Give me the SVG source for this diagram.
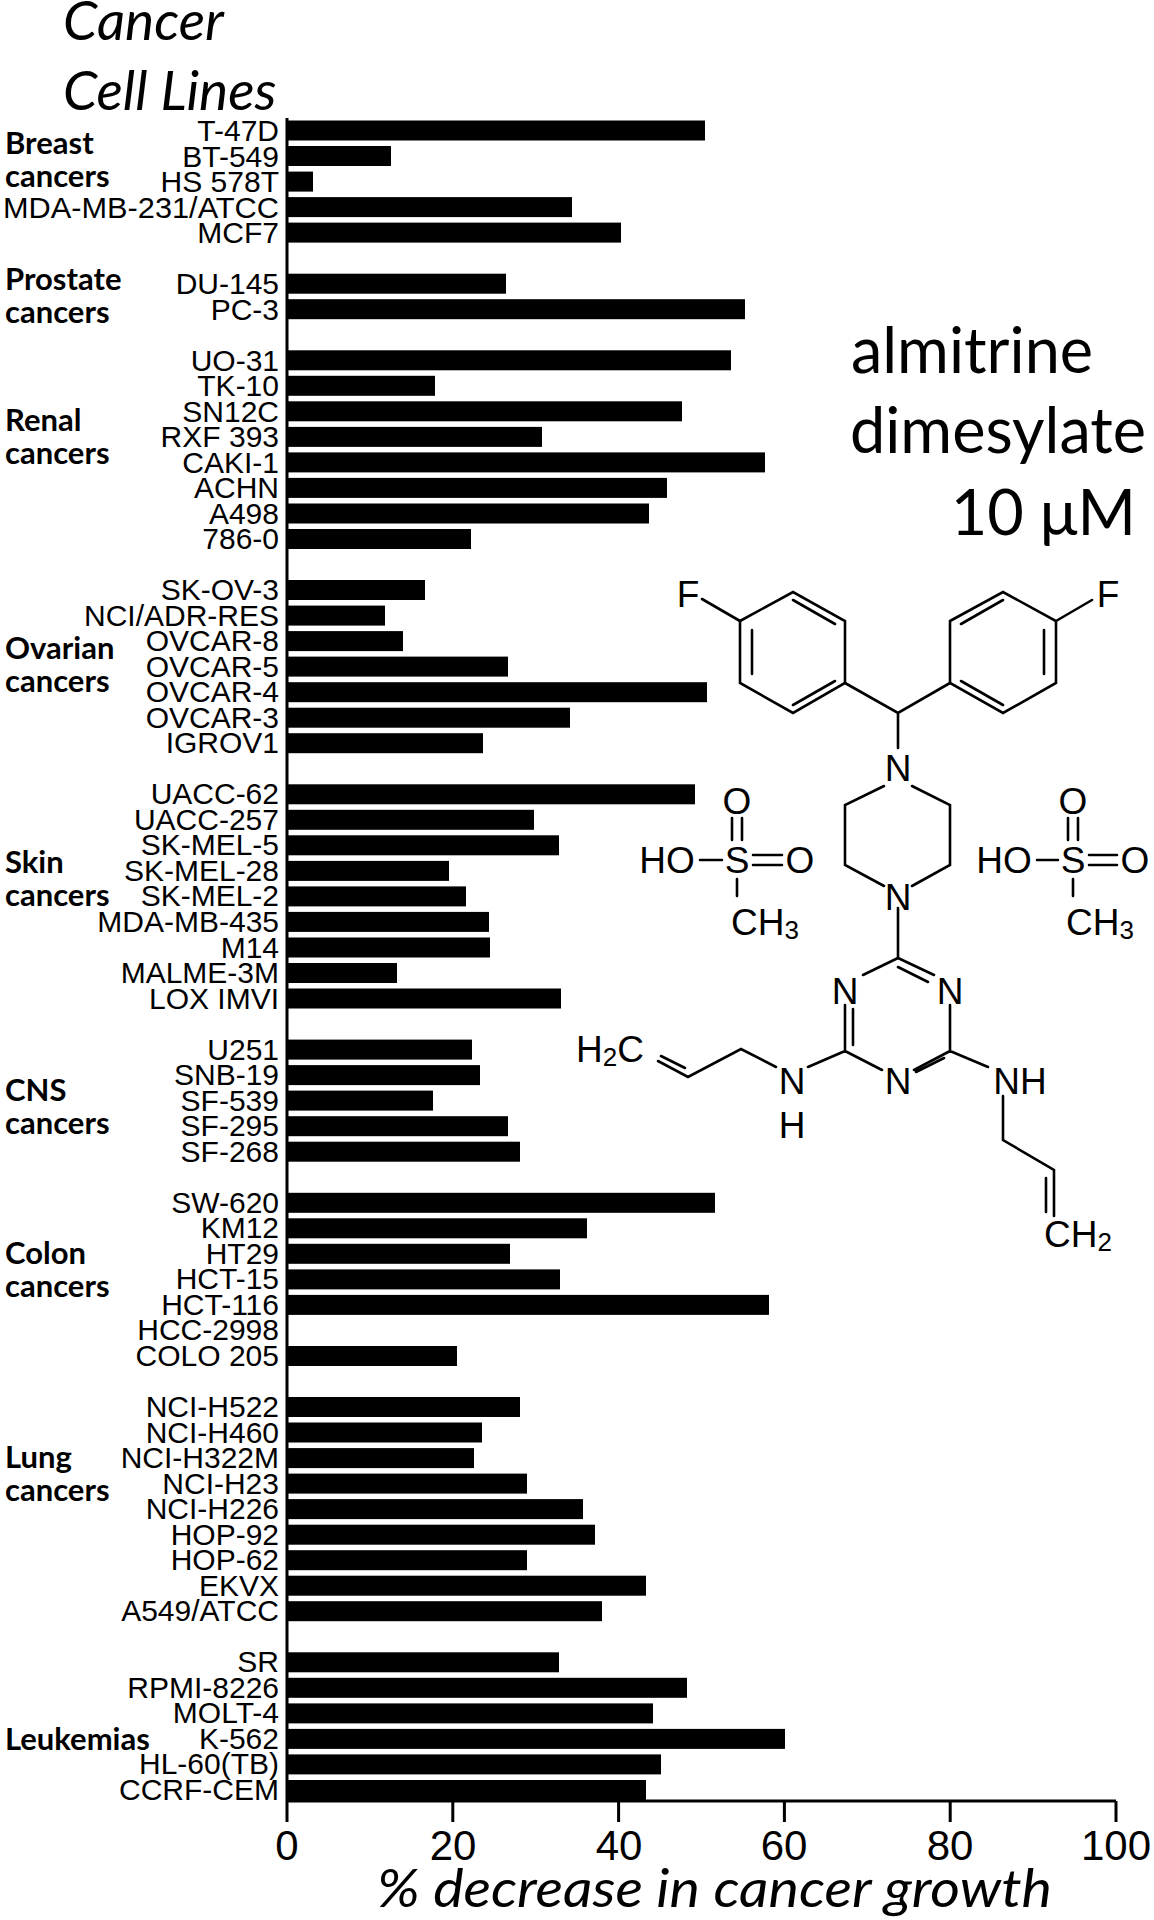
<svg xmlns="http://www.w3.org/2000/svg" width="1154" height="1920" viewBox="0 0 1154 1920">
<style>
.lb{font-family:"Liberation Sans Narrow","Liberation Sans",Arial,sans-serif;font-size:30px;text-anchor:end;fill:#000}
.gr{font-family:Lato,"Open Sans",sans-serif;font-weight:bold;font-size:31px;fill:#000}
.tt{font-family:Lato,"Open Sans",sans-serif;font-style:italic;font-size:55px;fill:#000}
.tk{font-family:"Liberation Sans Narrow","Liberation Sans",sans-serif;font-size:42px;text-anchor:middle;fill:#000}
.big{font-family:Lato,"Open Sans",sans-serif;font-size:63px;fill:#000}
.at{font-family:"Liberation Sans",Arial,sans-serif;font-size:37px;text-anchor:middle;dominant-baseline:central;fill:#000}
.bd{stroke:#000;stroke-width:2.6;fill:none;stroke-linecap:round}
rect{fill:#000}
</style>
<rect width="1154" height="1920" style="fill:#fff"/>
<text class="tt" x="63" y="40">Cancer</text>
<text class="tt" x="63" y="110">Cell Lines</text>
<g id="groups">
<text class="gr" x="5" y="154">Breast</text><text class="gr" x="5" y="187">cancers</text>
<text class="gr" x="5" y="290">Prostate</text><text class="gr" x="5" y="323">cancers</text>
<text class="gr" x="5" y="431">Renal</text><text class="gr" x="5" y="464">cancers</text>
<text class="gr" x="5" y="659">Ovarian</text><text class="gr" x="5" y="692">cancers</text>
<text class="gr" x="5" y="873">Skin</text><text class="gr" x="5" y="906">cancers</text>
<text class="gr" x="5" y="1101">CNS</text><text class="gr" x="5" y="1134">cancers</text>
<text class="gr" x="5" y="1264">Colon</text><text class="gr" x="5" y="1297">cancers</text>
<text class="gr" x="5" y="1468">Lung</text><text class="gr" x="5" y="1501">cancers</text>
<text class="gr" x="5" y="1750">Leukemias</text>
</g>
<g id="bars">
<rect x="287" y="120.5" width="418" height="20"/><text class="lb" x="279" y="141">T-47D</text>
<rect x="287" y="146" width="104" height="20"/><text class="lb" x="279" y="166.5">BT-549</text>
<rect x="287" y="171.6" width="26" height="20"/><text class="lb" x="279" y="192">HS 578T</text>
<rect x="287" y="197.1" width="285" height="20"/><text class="lb" x="279" y="217.5" textLength="276" lengthAdjust="spacingAndGlyphs">MDA-MB-231/ATCC</text>
<rect x="287" y="222.6" width="334" height="20"/><text class="lb" x="279" y="243">MCF7</text>
<rect x="287" y="273.7" width="219" height="20"/><text class="lb" x="279" y="294">DU-145</text>
<rect x="287" y="299.2" width="458" height="20"/><text class="lb" x="279" y="319.5">PC-3</text>
<rect x="287" y="350.3" width="444" height="20"/><text class="lb" x="279" y="370.5">UO-31</text>
<rect x="287" y="375.8" width="148" height="20"/><text class="lb" x="279" y="396">TK-10</text>
<rect x="287" y="401.3" width="395" height="20"/><text class="lb" x="279" y="421.5">SN12C</text>
<rect x="287" y="426.9" width="255" height="20"/><text class="lb" x="279" y="447">RXF 393</text>
<rect x="287" y="452.4" width="478" height="20"/><text class="lb" x="279" y="472.5">CAKI-1</text>
<rect x="287" y="477.9" width="380" height="20"/><text class="lb" x="279" y="498">ACHN</text>
<rect x="287" y="503.5" width="362" height="20"/><text class="lb" x="279" y="523.5">A498</text>
<rect x="287" y="529" width="184" height="20"/><text class="lb" x="279" y="549">786-0</text>
<rect x="287" y="580" width="138" height="20"/><text class="lb" x="279" y="600">SK-OV-3</text>
<rect x="287" y="605.6" width="98" height="20"/><text class="lb" x="279" y="625.6">NCI/ADR-RES</text>
<rect x="287" y="631.1" width="116" height="20"/><text class="lb" x="279" y="651.1">OVCAR-8</text>
<rect x="287" y="656.6" width="221" height="20"/><text class="lb" x="279" y="676.6">OVCAR-5</text>
<rect x="287" y="682.2" width="420" height="20"/><text class="lb" x="279" y="702.2">OVCAR-4</text>
<rect x="287" y="707.7" width="283" height="20"/><text class="lb" x="279" y="727.7">OVCAR-3</text>
<rect x="287" y="733.2" width="196" height="20"/><text class="lb" x="279" y="753.2">IGROV1</text>
<rect x="287" y="784.3" width="408" height="20"/><text class="lb" x="279" y="804.3">UACC-62</text>
<rect x="287" y="809.8" width="247" height="20"/><text class="lb" x="279" y="829.8">UACC-257</text>
<rect x="287" y="835.3" width="272" height="20"/><text class="lb" x="279" y="855.3">SK-MEL-5</text>
<rect x="287" y="860.9" width="162" height="20"/><text class="lb" x="279" y="880.9">SK-MEL-28</text>
<rect x="287" y="886.4" width="179" height="20"/><text class="lb" x="279" y="906.4">SK-MEL-2</text>
<rect x="287" y="911.9" width="202" height="20"/><text class="lb" x="279" y="931.9">MDA-MB-435</text>
<rect x="287" y="937.5" width="203" height="20"/><text class="lb" x="279" y="957.5">M14</text>
<rect x="287" y="963" width="110" height="20"/><text class="lb" x="279" y="983">MALME-3M</text>
<rect x="287" y="988.5" width="274" height="20"/><text class="lb" x="279" y="1008.5">LOX IMVI</text>
<rect x="287" y="1039.6" width="185" height="20"/><text class="lb" x="279" y="1059.6">U251</text>
<rect x="287" y="1065.1" width="193" height="20"/><text class="lb" x="279" y="1085.1">SNB-19</text>
<rect x="287" y="1090.6" width="146" height="20"/><text class="lb" x="279" y="1110.6">SF-539</text>
<rect x="287" y="1116.2" width="221" height="20"/><text class="lb" x="279" y="1136.2">SF-295</text>
<rect x="287" y="1141.7" width="233" height="20"/><text class="lb" x="279" y="1161.7">SF-268</text>
<rect x="287" y="1192.8" width="428" height="20"/><text class="lb" x="279" y="1212.8">SW-620</text>
<rect x="287" y="1218.3" width="300" height="20"/><text class="lb" x="279" y="1238.3">KM12</text>
<rect x="287" y="1243.8" width="223" height="20"/><text class="lb" x="279" y="1263.8">HT29</text>
<rect x="287" y="1269.4" width="273" height="20"/><text class="lb" x="279" y="1289.4">HCT-15</text>
<rect x="287" y="1294.9" width="482" height="20"/><text class="lb" x="279" y="1314.9">HCT-116</text>
<text class="lb" x="279" y="1340.4">HCC-2998</text>
<rect x="287" y="1346" width="170" height="20"/><text class="lb" x="279" y="1366">COLO 205</text>
<rect x="287" y="1397" width="233" height="20"/><text class="lb" x="279" y="1417">NCI-H522</text>
<rect x="287" y="1422.5" width="195" height="20"/><text class="lb" x="279" y="1442.5">NCI-H460</text>
<rect x="287" y="1448.1" width="187" height="20"/><text class="lb" x="279" y="1468.1">NCI-H322M</text>
<rect x="287" y="1473.6" width="240" height="20"/><text class="lb" x="279" y="1493.6">NCI-H23</text>
<rect x="287" y="1499.1" width="296" height="20"/><text class="lb" x="279" y="1519.1">NCI-H226</text>
<rect x="287" y="1524.7" width="308" height="20"/><text class="lb" x="279" y="1544.7">HOP-92</text>
<rect x="287" y="1550.2" width="240" height="20"/><text class="lb" x="279" y="1570.2">HOP-62</text>
<rect x="287" y="1575.7" width="359" height="20"/><text class="lb" x="279" y="1595.7">EKVX</text>
<rect x="287" y="1601.2" width="315" height="20"/><text class="lb" x="279" y="1621.2">A549/ATCC</text>
<rect x="287" y="1652.3" width="272" height="20"/><text class="lb" x="279" y="1672.3">SR</text>
<rect x="287" y="1677.8" width="400" height="20"/><text class="lb" x="279" y="1697.8">RPMI-8226</text>
<rect x="287" y="1703.4" width="366" height="20"/><text class="lb" x="279" y="1723.4">MOLT-4</text>
<rect x="287" y="1728.9" width="498" height="20"/><text class="lb" x="279" y="1748.9">K-562</text>
<rect x="287" y="1754.4" width="374" height="20"/><text class="lb" x="279" y="1774.4">HL-60(TB)</text>
<rect x="287" y="1780" width="359" height="20"/><text class="lb" x="279" y="1800">CCRF-CEM</text>
</g>
<g id="axis" stroke="#000" stroke-width="3" fill="none">
<path d="M287 118V1801H1116M287 1801v21M452.8 1801v21M618.6 1801v21M784.4 1801v21M950.2 1801v21M1116 1801v21"/>
</g>
<g id="ticks">
<text class="tk" x="287" y="1860">0</text><text class="tk" x="453" y="1860">20</text><text class="tk" x="619" y="1860">40</text><text class="tk" x="784" y="1860">60</text><text class="tk" x="950" y="1860">80</text><text class="tk" x="1116" y="1860">100</text>
<text class="tt" x="377" y="1907" style="font-size:52px" textLength="675" lengthAdjust="spacingAndGlyphs">% decrease in cancer growth</text>
</g>
<g id="title">
<text class="big" x="972" y="373" text-anchor="middle">almitrine</text>
<text class="big" x="998" y="453" text-anchor="middle">dimesylate</text>
<text class="big" x="1136" y="535" text-anchor="end">10 μM</text>
</g>
<g id="structure">
<path class="bd" d="M740 621L793 592L845 621V683L793 713L740 683Z M752 630V674 M793 600L835 624 M793 705L835 681"/>
<path class="bd" d="M950 621L1003 592L1056 621V683L1003 713L950 683Z M1044 630V674 M1003 600L961 624 M1003 705L961 681"/>
<path class="bd" d="M702 599L740 621 M1056 621L1092 600 M845 683L898 713L950 683 M898 713V748"/>
<path class="bd" d="M884 786L845 805V865L884 886 M912 786L950 805V865L912 886 M898 908V958"/>
<path class="bd" d="M898 958L863 975 M898 958L934 975 M898 967L928 982 M845 1005V1051 M853 1009V1045 M950 1005V1051 M845 1051L882 1070 M950 1051L914 1070 M944 1058L916 1072 M845 1051L808 1067 M950 1051L988 1067"/>
<path class="bd" d="M776 1067L741 1049L688 1077L658 1061 M685 1068L661 1056 M1003 1096V1140L1054 1170V1216 M1046 1178V1212"/>
<text class="at" x="688" y="594">F</text><text class="at" x="1108" y="594">F</text>
<text class="at" x="898" y="768">N</text><text class="at" x="898" y="897">N</text>
<text class="at" x="845" y="991">N</text><text class="at" x="950" y="991">N</text><text class="at" x="898" y="1081">N</text>
<text class="at" x="792" y="1081">N</text><text class="at" x="792" y="1125">H</text>
<text class="at" x="1020" y="1081">NH</text>
<text class="at" x="610" y="1049">H<tspan font-size="26" dy="8">2</tspan><tspan dy="-8">C</tspan></text>
<text class="at" x="1078" y="1234">CH<tspan font-size="26" dy="8">2</tspan></text>
<text class="at" x="667" y="860">HO</text><text class="at" x="737" y="860">S</text><text class="at" x="800" y="860">O</text><text class="at" x="737" y="801">O</text>
<text class="at" x="765" y="922">CH<tspan font-size="26" dy="8">3</tspan></text>
<path class="bd" d="M700 860H722 M753 855H782 M753 865H782 M732 818V840 M742 818V840 M737 879V896"/>
<text class="at" x="1004" y="860">HO</text><text class="at" x="1073" y="860">S</text><text class="at" x="1135" y="860">O</text><text class="at" x="1073" y="801">O</text>
<text class="at" x="1100" y="922">CH<tspan font-size="26" dy="8">3</tspan></text>
<path class="bd" d="M1037 860H1058 M1089 855H1117 M1089 865H1117 M1068 818V840 M1078 818V840 M1073 879V896"/>
</g>
</svg>
